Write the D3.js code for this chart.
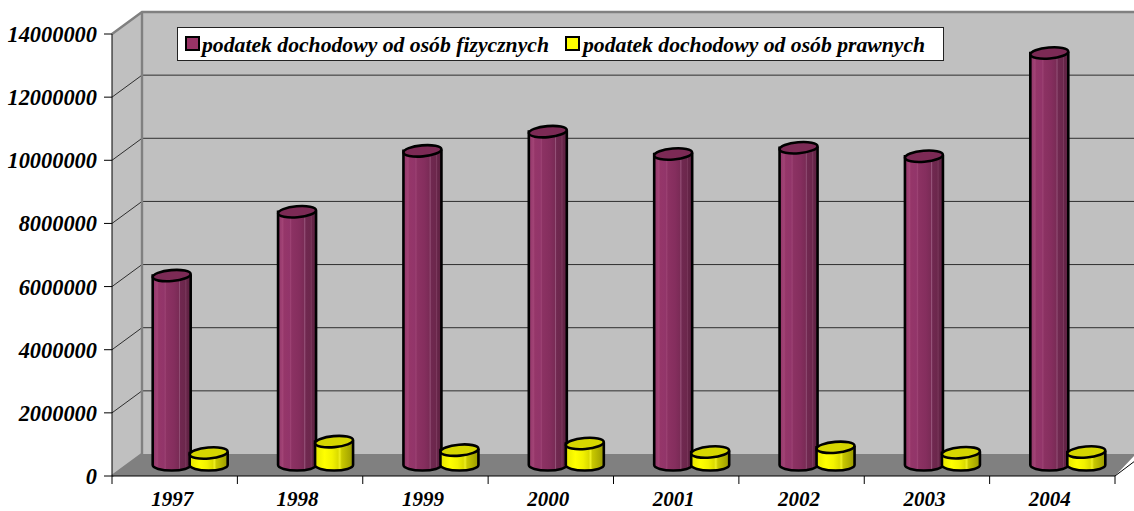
<!DOCTYPE html>
<html><head><meta charset="utf-8">
<script src="https://cdn.jsdelivr.net/npm/d3@7"></script>
<style>html,body{margin:0;padding:0;background:#fff}svg{display:block}
text{font-family:"Liberation Serif",serif;font-weight:bold;font-style:italic;fill:#000}</style></head>
<body><svg id="c" width="1134" height="511"></svg>
<script>
const categories=["1997","1998","1999","2000","2001","2002","2003","2004"];
const seriesNames=["podatek dochodowy od osób fizycznych","podatek dochodowy od osób prawnych"];
const fizyczne=[6000000,8020000,9950000,10560000,9850000,10050000,9780000,13050000];
const prawne=[380000,740000,470000,680000,410000,560000,390000,410000];
const yTicks=[0,2000000,4000000,6000000,8000000,10000000,12000000,14000000];
const W=1134,H=511,plotL=112,plotR=1115,plotB=476,plotT=34,dx=30,dy=-22;
const svg=d3.select("#c");
const x=d3.scaleBand().domain(categories).range([plotL,plotR]);
const y=d3.scaleLinear().domain([0,14000000]).range([plotB,plotT]);
const defs=svg.append("defs");
function grad(id,stops){const g=defs.append("linearGradient").attr("id",id);
 stops.forEach(s=>g.append("stop").attr("offset",s[0]).attr("stop-color",s[1]));}
grad("gp",[[0,"#8f3367"],[.12,"#a24476"],[.16,"#953669"],[.3,"#92356a"],[.33,"#9c4273"],[.36,"#8c3263"],[.55,"#852e5e"],[.68,"#7a2b56"],[.7,"#96547a"],[.73,"#702850"],[.85,"#6c274c"],[.87,"#7c3a5e"],[.9,"#652447"],[1,"#5f2343"]]);
grad("gy",[[0,"#e6e600"],[.25,"#ffff00"],[.45,"#f2f200"],[.6,"#dcdc00"],[.65,"#eeee20"],[.7,"#c8c800"],[1,"#9a9a00"]]);
// walls
svg.append("polygon").attr("points",[[plotL,plotT],[plotL+dx,plotT+dy],[plotL+dx,plotB+dy],[plotL,plotB]].join(" ")).attr("fill","#c0c0c0");
svg.append("polygon").attr("points",[[plotL+dx,plotT+dy],[W+2,plotT+dy],[W+2,plotB+dy],[plotL+dx,plotB+dy]].join(" ")).attr("fill","#c0c0c0");
svg.append("polygon").attr("points",[[plotL,plotB],[plotL+dx,plotB+dy],[W+2,plotB+dy],[plotR,plotB]].join(" ")).attr("fill","#808080");
// gridlines
yTicks.slice(1,-1).forEach(t=>{
 svg.append("path").attr("d",`M${plotL},${y(t)}L${plotL+dx},${y(t)+dy}L${W},${y(t)+dy}`).attr("fill","none").attr("stroke","#2e2e2e").attr("stroke-width",1);
});
svg.append("path").attr("d",`M${plotL},${plotT}L${plotL+dx},${plotT+dy}L${W},${plotT+dy}M${plotL+dx},${plotT+dy}V${plotB+dy}L${plotL},${plotB}`).attr("fill","none").attr("stroke","#808080").attr("stroke-width",2.4);
// axes
svg.append("path").attr("d",`M${plotL},${plotT}V${plotB}H${plotR}L${W},${plotB+dy*0.65}`).attr("fill","none").attr("stroke","#000");
yTicks.forEach(t=>{
 svg.append("line").attr("x1",plotL-8).attr("x2",plotL).attr("y1",y(t)).attr("y2",y(t)).attr("stroke","#000");
 svg.append("text").attr("x",97).attr("y",y(t)+8).attr("text-anchor","end").attr("font-size",22.4).text(t);
});
categories.concat("").forEach((c,i)=>{
 const xp=plotL+i*x.step();
 svg.append("line").attr("x1",xp).attr("x2",xp).attr("y1",plotB).attr("y2",plotB+8).attr("stroke","#000");
});
categories.forEach(c=>{
 svg.append("text").attr("x",x(c)+x.bandwidth()/2-2.5).attr("y",plotB+30).attr("text-anchor","middle").attr("font-size",21).text(c);
});
// cylinders
const bw=38,ry=5.5,zx=dx/2+1,zy=dy/2;
function cyl(cx,v,fill,topFill){
 const l=cx-bw/2,r=cx+bw/2,b=y(0)+zy,t=y(v)+zy;
 const g=svg.append("g").attr("stroke","#000").attr("stroke-width",2.6);
 g.append("path").attr("d",`M${l},${t}V${b}A${bw/2},${ry} 0 0 0 ${r},${b}V${t}Z`).attr("fill",`url(#${fill})`);
 g.append("ellipse").attr("cx",cx).attr("cy",t).attr("rx",bw/2).attr("ry",ry).attr("fill",topFill).attr("transform",`rotate(-5 ${cx} ${t})`);
}
categories.forEach((c,i)=>{
 const m=x(c)+x.bandwidth()/2+zx;
 cyl(m-19,fizyczne[i],"gp","#7c2a55");
 cyl(m+18,prawne[i],"gy","#d6d600");
});
// legend
svg.append("rect").attr("x",177.5).attr("y",27.5).attr("width",766).attr("height",33).attr("fill","#fff").attr("stroke","#222");
const lx=[[186,202],[566,583]],lc=["#993366","#ffff00"];
seriesNames.forEach((n,i)=>{
 svg.append("rect").attr("x",lx[i][0]).attr("y",37).attr("width",13).attr("height",13).attr("fill",lc[i]).attr("stroke","#000").attr("stroke-width",2);
 svg.append("text").attr("x",lx[i][1]).attr("y",52).attr("font-size",21.7).text(n);
});
</script></body></html>
